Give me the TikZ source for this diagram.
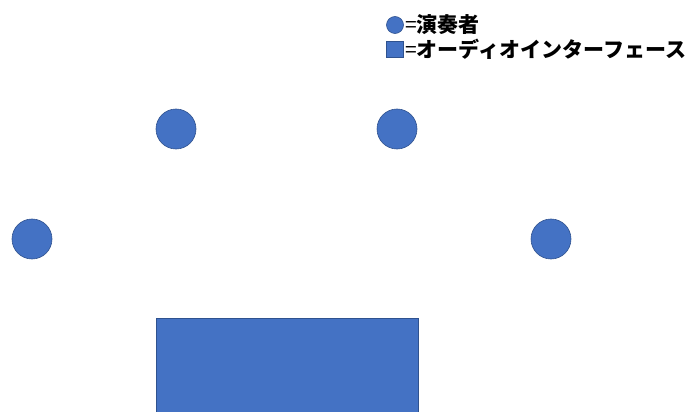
\documentclass[tikz,border=0pt]{standalone}
\usepackage{fontspec}
\newfontfamily\jp{Noto Sans CJK JP}
\definecolor{accent}{HTML}{4472C4}
\definecolor{accentline}{HTML}{2F528F}
\begin{document}
\begin{tikzpicture}[x=1pt,y=-1pt,
  player/.style={circle,fill=accent,draw=accentline,line width=0.6pt,minimum size=40pt,inner sep=0pt},
  iface/.style={fill=accent,draw=accentline,line width=0.6pt},
  legtext/.style={anchor=west,inner sep=0pt,font=\jp\bfseries\fontsize{21}{24}\selectfont}]
\useasboundingbox (0,0) rectangle (689,412);
\node[player] (p1) at (176,129) {};
\node[player] (p2) at (397,129) {};
\node[player] (p3) at (32,239) {};
\node[player] (p4) at (551,239) {};
\path[iface] (156,318) rectangle (418,414);
\node[player,minimum size=17pt] (lc) at (395,25) {};
\path[iface] (386,41) rectangle (403,57);
\node[legtext] (l1) at (405,25) {{\mdseries =}演奏者};
\node[legtext] (l2) at (405,49) {{\mdseries =}オーディオインターフェース};
\end{tikzpicture}
\end{document}
